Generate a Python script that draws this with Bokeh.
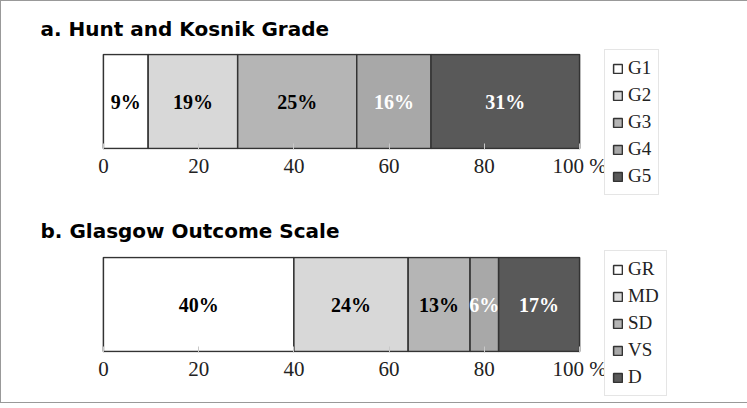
from bokeh.plotting import figure
from bokeh.models import ColumnDataSource, Range1d, FixedTicker, Legend, LegendItem
from bokeh.layouts import column
from bokeh.core.properties import value
from bokeh.embed import file_html
from bokeh.resources import INLINE

# ---- data ----
titles = ["a. Hunt and Kosnik Grade", "b. Glasgow Outcome Scale"]
cats_a = ["G1", "G2", "G3", "G4", "G5"]
vals_a = [9.4, 18.8, 25.0, 15.6, 31.2]
labels_a = ["9%", "19%", "25%", "16%", "31%"]
cats_b = ["GR", "MD", "SD", "VS", "D"]
vals_b = [40, 24, 13, 6, 17]
labels_b = ["40%", "24%", "13%", "6%", "17%"]
ticks = [0, 20, 40, 60, 80, 100]

# ---- style ----
fills = ["#ffffff", "#d8d8d8", "#b5b5b5", "#a8a8a8", "#595959"]
text_cols_a = ["black", "black", "black", "white", "white"]
text_cols_b = ["black", "black", "black", "white", "white"]
SERIF = "Liberation Serif"


def panel(title, cats, vals, labels, tcols, top, bottom, leg_x, leg_y, standoff):
    left, right, mid = [], [], []
    acc = 0
    for v in vals:
        left.append(acc)
        right.append(acc + v)
        mid.append(acc + v / 2)
        acc += v
    src = ColumnDataSource(dict(cat=cats, left=left, right=right, mid=mid,
                                y=[0] * len(cats), lab=labels, fill=fills, tc=tcols))
    p = figure(frame_width=480, frame_height=96,
               x_range=Range1d(-0.4, 100.4), y_range=Range1d(-0.5, 0.5),
               output_backend="svg", toolbar_location=None,
               min_border_left=100, min_border_right=20,
               min_border_top=top, min_border_bottom=bottom)
    p.outline_line_color = None
    p.grid.visible = False
    p.yaxis.visible = False
    p.title.text = title
    p.title.align = "left"
    p.title.offset = -61
    p.title.text_font = "DejaVu Sans"
    p.title.text_font_style = "bold"
    p.title.text_font_size = "20px"
    p.title.text_color = "black"
    p.title.standoff = standoff

    r = p.hbar(y="y", left="left", right="right", height=0.98, source=src,
               fill_color="fill", line_color="#333333", line_width=1.5)
    p.text(x="mid", y="y", text="lab", source=src, text_align="center",
           text_baseline="middle", text_color="tc", text_font=value(SERIF),
           text_font_style="bold", text_font_size="20px")

    ax = p.xaxis[0]
    ax.ticker = FixedTicker(ticks=ticks)
    ax.major_label_overrides = {100: "100 %"}
    ax.axis_line_color = None
    ax.major_tick_out = 0
    ax.major_tick_in = 6
    ax.major_tick_line_color = "#c8c8c8"
    ax.minor_tick_line_color = None
    ax.major_label_standoff = 4
    ax.major_label_text_font = SERIF
    ax.major_label_text_font_size = "21px"
    ax.major_label_text_color = "#222222"

    items = [LegendItem(label=c, renderers=[r], index=i) for i, c in enumerate(cats)]
    leg = Legend(items=items, location=(leg_x, leg_y))
    leg.glyph_width = 11
    leg.glyph_height = 11
    leg.label_height = 22
    leg.spacing = 5
    leg.padding = 7
    leg.margin = 0
    leg.label_standoff = 5
    leg.label_text_font = SERIF
    leg.label_text_font_size = "19px"
    leg.label_text_color = "#222222"
    leg.border_line_color = "#cccccc"
    leg.border_line_width = 1
    leg.background_fill_alpha = 1
    p.add_layout(leg, "right")
    return p


p1 = panel(titles[0], cats_a, vals_a, labels_a, text_cols_a, 45, 53, 23, -46, 26)
p2 = panel(titles[1], cats_b, vals_b, labels_b, text_cols_b, 50, 50, 23, -44, 28)

layout = column(p1, p2, spacing=0, styles={"border": "1px solid #999999"})

open("out.html", "w").write(file_html(layout, INLINE))
